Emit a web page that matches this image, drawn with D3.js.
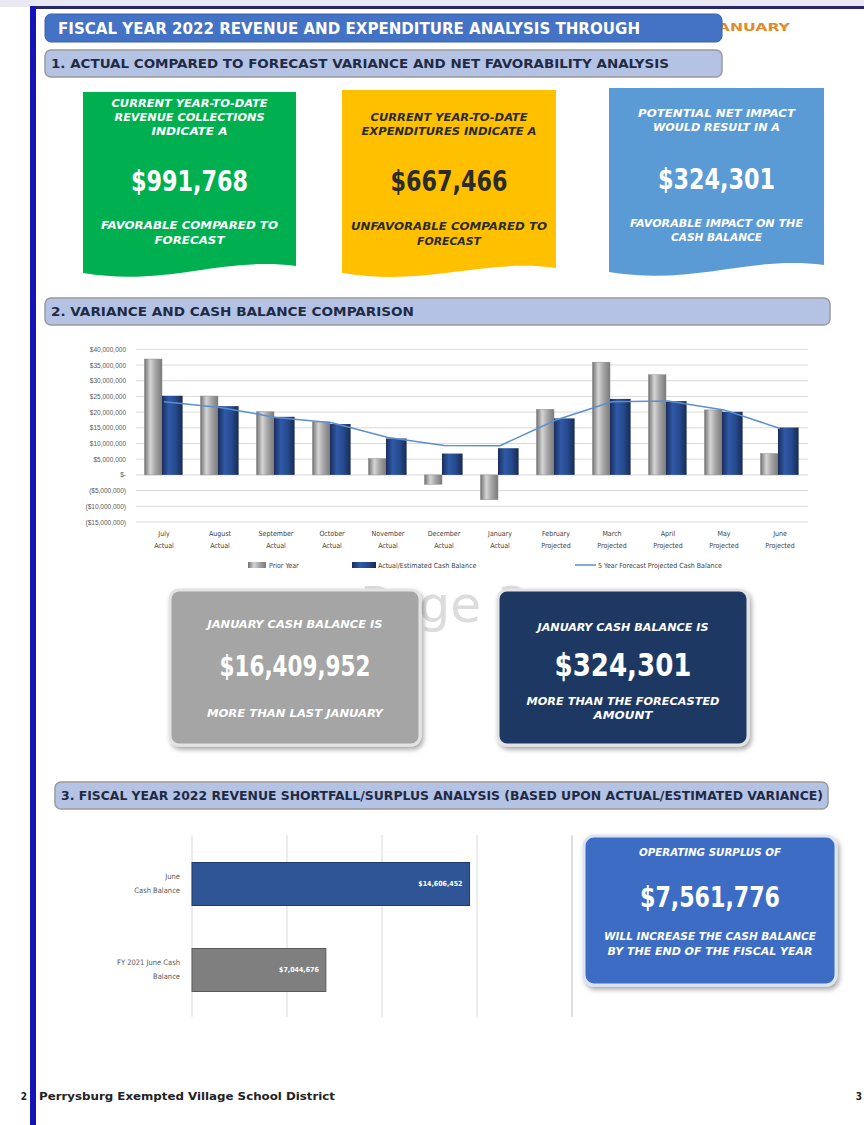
<!DOCTYPE html>
<html>
<head>
<meta charset="utf-8">
<script src="https://cdn.jsdelivr.net/npm/d3@7"></script>
<style>
  body { margin: 0; background: #fff; }
  svg { display: block; font-family: "Liberation Sans Narrow", "DejaVu Sans Condensed", "Open Sans", sans-serif; }
</style>
</head>
<body>
<div id="page"></div>
<script>
// ---- data ----
const months = ["July", "August", "September", "October", "November", "December",
  "January", "February", "March", "April", "May", "June"];
const monthStatus = ["Actual", "Actual", "Actual", "Actual", "Actual", "Actual",
  "Actual", "Projected", "Projected", "Projected", "Projected", "Projected"];
const priorYear = [36900000, 25100000, 20100000, 16900000, 5200000, -3000000,
  -7900000, 20900000, 35900000, 31900000, 20700000, 6800000];
const actualEstimated = [25200000, 21900000, 18500000, 16200000, 11600000, 6800000,
  8500000, 18000000, 24200000, 23500000, 20100000, 15100000];
const forecast = [23300000, 21500000, 18300000, 16600000, 11900000, 9400000,
  9300000, 17500000, 23300000, 23500000, 20700000, 14800000];
const yTicks = [40000000, 35000000, 30000000, 25000000, 20000000, 15000000, 10000000,
  5000000, 0, -5000000, -10000000, -15000000];
const seriesNames = ["Prior Year", "Actual/Estimated Cash Balance", "5 Year Forecast Projected Cash Balance"];

const balanceCats = [["June", "Cash Balance"], ["FY 2021 June Cash", "Balance"]];
const balanceValues = [14606452, 7044676];
const balanceTicks = [0, 5000000, 10000000, 15000000, 20000000];

const W = 864, H = 1125;
const svg = d3.select("#page").append("svg").attr("width", W).attr("height", H);
const defs = svg.append("defs");

function grad(id, stops) {
  const g = defs.append("linearGradient").attr("id", id).attr("x1", 0).attr("x2", 1).attr("y1", 0).attr("y2", 0);
  stops.forEach((c, i) => g.append("stop").attr("offset", i / (stops.length - 1)).attr("stop-color", c));
}
grad("greyBar", ["#6f6f6f", "#d4d4d4", "#a0a0a0", "#7a7a7a"]);
grad("blueBar", ["#1a2d5c", "#2f5aa8", "#27498c", "#172a55"]);
const shadow = defs.append("filter").attr("id", "shadow").attr("x", "-10%").attr("y", "-10%").attr("width", "130%").attr("height", "130%");
shadow.append("feDropShadow").attr("dx", 2).attr("dy", 3).attr("stdDeviation", 2.5).attr("flood-color", "#000").attr("flood-opacity", 0.35);

// helper for text lines
function label(g, x, y, str, o) {
  o = o || {};
  const t = g.append("text").attr("x", x).attr("y", y)
    .attr("text-anchor", o.anchor || "middle")
    .attr("dominant-baseline", "middle")
    .attr("font-size", o.size || 10)
    .attr("font-weight", o.weight || "bold")
    .attr("font-style", o.style || "normal")
    .attr("fill", o.fill || "#fff")
    .text(str);
  if (o.len) t.attr("textLength", o.len).attr("lengthAdjust", "spacingAndGlyphs");
  return t;
}

// ---- page frame ----
svg.append("rect").attr("x", 0).attr("y", 0).attr("width", W).attr("height", 7).attr("fill", "#e9e7f1");
svg.append("rect").attr("x", 30).attr("y", 6).attr("width", W - 30).attr("height", 3).attr("fill", "#26266e");
svg.append("rect").attr("x", 30).attr("y", 6).attr("width", 6).attr("height", H - 6).attr("fill", "#1414b8");

// watermark behind cards
svg.append("text").attr("x", 360).attr("y", 622).attr("font-size", 50)
  .attr("font-family", "DejaVu Sans, sans-serif").attr("fill", "#dcdcdc").text("Page 3");

// ---- headers ----
label(svg, 712, 28, "JANUARY", { anchor: "start", size: 10, fill: "#e08a2c", len: 78 });
svg.append("rect").attr("x", 45).attr("y", 14).attr("width", 677).attr("height", 28).attr("rx", 6)
  .attr("fill", "#4472c4").attr("stroke", "#3a62ad");
label(svg, 58, 29, "FISCAL YEAR 2022 REVENUE AND EXPENDITURE ANALYSIS THROUGH", { anchor: "start", size: 16, len: 582 });

function sectionBar(x, y, w, str, len) {
  svg.append("rect").attr("x", x).attr("y", y).attr("width", w).attr("height", 27).attr("rx", 6)
    .attr("fill", "#b4c3e4").attr("stroke", "#9a9a9a").attr("stroke-width", 1.5);
  label(svg, x + 6, y + 14, str, { anchor: "start", size: 12.5, fill: "#1f2a44", len: len });
}
sectionBar(45, 50, 677, "1. ACTUAL COMPARED TO FORECAST VARIANCE AND NET FAVORABILITY ANALYSIS", 618);
sectionBar(45, 298, 785, "2. VARIANCE AND CASH BALANCE COMPARISON", 363);
sectionBar(55, 782, 773, "3. FISCAL YEAR 2022 REVENUE SHORTFALL/SURPLUS ANALYSIS (BASED UPON ACTUAL/ESTIMATED VARIANCE)", 762);

// ---- top cards (document shape) ----
function docShape(x0, y0, x1, yL, yR) {
  const p = d3.path(), w = x1 - x0;
  p.moveTo(x0, y0); p.lineTo(x1, y0); p.lineTo(x1, yR);
  p.bezierCurveTo(x1 - w * 0.35, yR - 10, x0 + w * 0.4, yL + 14, x0, yL);
  p.closePath();
  return p.toString();
}
const topCards = [
  { x0: 83, x1: 296, y0: 92, yL: 273, yR: 266, fill: "#00b050", text: "#fff",
    top: [["CURRENT YEAR-TO-DATE", 104, 156], ["REVENUE COLLECTIONS", 118, 150], ["INDICATE A", 132, 76]],
    amount: ["$991,768", 183, 117], bottom: [["FAVORABLE COMPARED TO", 226, 177], ["FORECAST", 241, 70]] },
  { x0: 342, x1: 556, y0: 90, yL: 273, yR: 268, fill: "#ffc000", text: "#2b2b2b",
    top: [["CURRENT YEAR-TO-DATE", 118, 157], ["EXPENDITURES INDICATE A", 132, 175]],
    amount: ["$667,466", 183, 117], bottom: [["UNFAVORABLE COMPARED TO", 227, 196], ["FORECAST", 242, 64]] },
  { x0: 609, x1: 824, y0: 88, yL: 272, yR: 265, fill: "#5b9bd5", text: "#fff",
    top: [["POTENTIAL NET IMPACT", 114, 157], ["WOULD RESULT IN A", 128, 127]],
    amount: ["$324,301", 181, 117], bottom: [["FAVORABLE IMPACT ON THE", 224, 173], ["CASH BALANCE", 238, 91]] }
];
topCards.forEach(c => {
  const g = svg.append("g");
  g.append("path").attr("d", docShape(c.x0, c.y0, c.x1, c.yL, c.yR)).attr("fill", c.fill);
  const cx = (c.x0 + c.x1) / 2;
  c.top.concat(c.bottom).forEach(l => label(g, cx, l[1], l[0], { size: 10, style: "italic", fill: c.text, len: l[2] }));
  label(g, cx, c.amount[1], c.amount[0], { size: 28, fill: c.text, len: c.amount[2] });
});

// ---- chart 2: variance and cash balance ----
const chart = svg.append("g");
const x = d3.scaleBand().domain(months).range([136, 808]).paddingInner(0.3).paddingOuter(0.15);
const xs = d3.scaleBand().domain(["prior", "actual"]).range([0, x.bandwidth()]);
const y = d3.scaleLinear().domain([-15000000, 40000000]).range([522, 349.3]);

const fmt = d3.format(",");
const moneyFmt = v => v === 0 ? "$-" : v < 0 ? "($" + fmt(-v) + ")" : "$" + fmt(v);

chart.append("g").selectAll("line").data(yTicks).join("line")
  .attr("x1", 136).attr("x2", 808).attr("y1", d => y(d)).attr("y2", d => y(d))
  .attr("stroke", "#d9d9d9").attr("stroke-width", 1);

const yAxis = chart.append("g").attr("transform", "translate(128,0)")
  .call(d3.axisLeft(y).tickValues(yTicks).tickFormat(moneyFmt).tickSize(0).tickPadding(2));
yAxis.select(".domain").remove();
yAxis.selectAll("text").attr("font-size", 6.5).attr("fill", "#595959").attr("font-family", "inherit");

chart.append("g").selectAll("rect").data(priorYear).join("rect")
  .attr("x", (d, i) => x(months[i]) + xs("prior"))
  .attr("width", xs.bandwidth() - 2)
  .attr("y", d => y(Math.max(0, d)))
  .attr("height", d => Math.abs(y(d) - y(0)))
  .attr("fill", "url(#greyBar)").attr("stroke", "#8d8d8d").attr("stroke-width", 0.5);

chart.append("g").selectAll("rect").data(actualEstimated).join("rect")
  .attr("x", (d, i) => x(months[i]) + xs("actual") - 2)
  .attr("width", xs.bandwidth() + 1)
  .attr("y", d => y(Math.max(0, d)))
  .attr("height", d => Math.abs(y(d) - y(0)))
  .attr("fill", "url(#blueBar)");

const line = d3.line().x((d, i) => x(months[i]) + x.bandwidth() / 2).y(d => y(d));
chart.append("path").datum(forecast).attr("d", line)
  .attr("fill", "none").attr("stroke", "#5b8fd0").attr("stroke-width", 1.5);

const xAxis = chart.append("g").attr("transform", "translate(0,530)");
months.forEach((m, i) => {
  const t = xAxis.append("text").attr("x", x(m) + x.bandwidth() / 2).attr("y", 0)
    .attr("text-anchor", "middle").attr("font-size", 7).attr("fill", "#404040");
  t.append("tspan").attr("x", x(m) + x.bandwidth() / 2).attr("dy", 6).text(m);
  t.append("tspan").attr("x", x(m) + x.bandwidth() / 2).attr("dy", 12).text(monthStatus[i]);
});

// legend
const leg = chart.append("g").attr("font-size", 7).attr("fill", "#404040");
leg.append("rect").attr("x", 248).attr("y", 562).attr("width", 18).attr("height", 6).attr("fill", "url(#greyBar)");
leg.append("text").attr("x", 269).attr("y", 568).text(seriesNames[0]);
leg.append("rect").attr("x", 352).attr("y", 562).attr("width", 24).attr("height", 6).attr("fill", "url(#blueBar)");
leg.append("text").attr("x", 378).attr("y", 568).text(seriesNames[1]);
leg.append("line").attr("x1", 575).attr("x2", 596).attr("y1", 565).attr("y2", 565).attr("stroke", "#5b8fd0").attr("stroke-width", 1.5);
leg.append("text").attr("x", 598).attr("y", 568).text(seriesNames[2]);

// ---- middle cards ----
const midCards = [
  { x: 170, y: 590, w: 250, h: 155, fill: "#a5a5a5",
    lines: [["JANUARY CASH BALANCE IS", 625, 10, 175], ["$16,409,952", 668, 28, 151], ["MORE THAN LAST JANUARY", 714, 10, 176]] },
  { x: 498, y: 590, w: 250, h: 155, fill: "#1f3864",
    lines: [["JANUARY CASH BALANCE IS", 628, 10, 171], ["$324,301", 667, 32, 137], ["MORE THAN THE FORECASTED", 702, 10, 193], ["AMOUNT", 716, 10, 59]] }
];
midCards.forEach(c => {
  const g = svg.append("g");
  g.append("rect").attr("x", c.x).attr("y", c.y).attr("width", c.w).attr("height", c.h).attr("rx", 9)
    .attr("fill", c.fill).attr("stroke", "#e3e3e3").attr("stroke-width", 3).attr("filter", "url(#shadow)");
  c.lines.forEach(l => label(g, c.x + c.w / 2, l[1], l[0], { size: l[2], style: l[2] > 20 ? "normal" : "italic", len: l[3] }));
});

// ---- chart 3: june cash balance ----
const hb = svg.append("g");
const bx = d3.scaleLinear().domain([0, 20000000]).range([192, 572]);
const by = d3.scaleBand().domain(balanceCats.map(d => d.join(" "))).range([841, 1013]).paddingInner(0.5).paddingOuter(0.25);

hb.append("g").selectAll("line").data(balanceTicks).join("line")
  .attr("x1", d => bx(d)).attr("x2", d => bx(d)).attr("y1", 835).attr("y2", 1017)
  .attr("stroke", (d, i) => i === balanceTicks.length - 1 ? "#bfbfbf" : "#d9d9d9").attr("stroke-width", 1);

hb.append("g").selectAll("rect").data(balanceValues).join("rect")
  .attr("x", bx(0)).attr("y", (d, i) => by(balanceCats[i].join(" ")))
  .attr("width", d => bx(d) - bx(0)).attr("height", by.bandwidth())
  .attr("fill", (d, i) => i === 0 ? "#2f5597" : "#7f7f7f")
  .attr("stroke", (d, i) => i === 0 ? "#1f3a6a" : "#5a5a5a").attr("stroke-width", 1);

hb.append("g").selectAll("text").data(balanceValues).join("text")
  .attr("x", d => bx(d) - 7).attr("y", (d, i) => by(balanceCats[i].join(" ")) + by.bandwidth() / 2)
  .attr("text-anchor", "end").attr("dominant-baseline", "middle")
  .attr("font-size", 7).attr("font-weight", "bold").attr("fill", "#fff")
  .text(d => "$" + fmt(d));

balanceCats.forEach((c, i) => {
  const cy = by(c.join(" ")) + by.bandwidth() / 2;
  c.forEach((s, j) => hb.append("text").attr("x", 180).attr("y", cy - 7 + j * 14)
    .attr("text-anchor", "end").attr("dominant-baseline", "middle")
    .attr("font-size", 7.5).attr("fill", "#595959").text(s));
});

// right card
const rc = svg.append("g");
rc.append("rect").attr("x", 584).attr("y", 836).attr("width", 252).attr("height", 149).attr("rx", 10)
  .attr("fill", "#3d6cc5").attr("stroke", "#dce4f3").attr("stroke-width", 3).attr("filter", "url(#shadow)");
[["OPERATING SURPLUS OF", 853, 10, 142], ["$7,561,776", 899, 28, 140],
 ["WILL INCREASE THE CASH BALANCE", 937, 10, 212], ["BY THE END OF THE FISCAL YEAR", 952, 10, 205]]
  .forEach(l => label(rc, 710, l[1], l[0], { size: l[2], style: l[2] > 20 ? "normal" : "italic", len: l[3] }));

// ---- footer ----
label(svg, 24, 1097, "2", { size: 10, fill: "#222" });
label(svg, 39, 1097, "Perrysburg Exempted Village School District", { anchor: "start", size: 10, fill: "#222", len: 296 });
label(svg, 859, 1097, "3", { size: 10, fill: "#222" });
</script>
</body>
</html>
